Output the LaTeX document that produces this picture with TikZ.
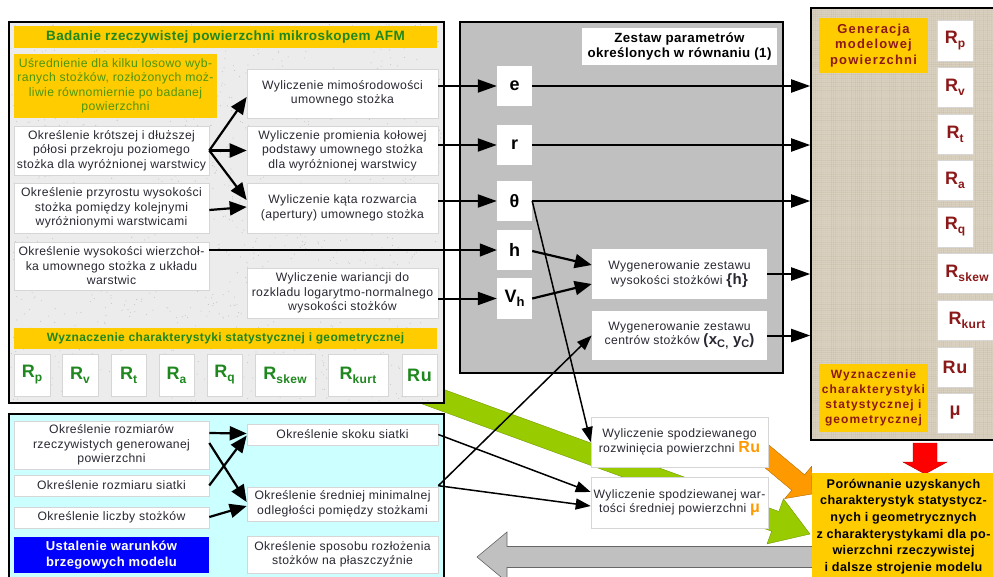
\documentclass[tikz,border=0pt]{standalone}
\usepackage{fontspec}
\setmainfont{Liberation Sans}[LetterSpace=3]
\newfontfamily\widefont[LetterSpace=9]{Liberation Sans}
\usetikzlibrary{arrows.meta,calc}

\definecolor{ylw}{RGB}{255,204,0}
\definecolor{grn}{RGB}{30,135,30}
\definecolor{usrgreen}{RGB}{75,150,15}
\definecolor{dred}{RGB}{140,25,25}
\definecolor{txt}{RGB}{40,40,50}
\definecolor{pgray}{RGB}{192,192,192}
\definecolor{cyanbg}{RGB}{204,255,255}
\definecolor{granite}{RGB}{236,236,236}
\definecolor{burlap}{RGB}{218,209,192}
\definecolor{burlapdark}{RGB}{150,135,110}
\definecolor{agreen}{RGB}{153,204,0}
\definecolor{aorange}{RGB}{255,153,0}
\definecolor{ared}{RGB}{255,0,0}
\definecolor{ablue}{RGB}{0,0,255}

\newcommand\bodysize{\fontsize{12.2}{14.5}\selectfont}
\newcommand\Rsub[2]{#1\raisebox{-0.22em}{\fontsize{12}{12}\selectfont #2}}

% box from corner (#2,#3) to corner (#4,#5), style #6, text #7
\newcommand\mkbox[7]{\node[#6, minimum width={(#4)-(#2)}, minimum height={(#5)-(#3)}]
  (#1) at ({((#2)+(#4))/2},{((#3)+(#5))/2}) {#7};}

\tikzset{
  panel/.style={draw=black, line width=1.6pt},
  wbox/.style={fill=white, draw=black!16, line width=0.6pt, align=center,
    text=txt, font=\bodysize, inner sep=0pt},
  ybox/.style={fill=ylw, draw=none, align=center, inner sep=0pt},
  rbox/.style={fill=white, draw=black!16, line width=0.6pt, inner sep=0pt,
    text=grn, font=\fontsize{18}{20}\selectfont\bfseries},
  rrbox/.style={rbox, text=dred},
  pbox/.style={fill=white, draw=none, inner sep=0pt,
    font=\fontsize{18}{20}\selectfont\bfseries},
  arr/.style={line width=2.2pt, -{Triangle[length=17pt,width=14pt]}},
  arrthin/.style={line width=1.3pt, -{Triangle[length=17pt,width=13pt]}},
  arrmid/.style={line width=1.5pt, -{Triangle[length=15pt,width=11pt]}},
  arrout/.style={line width=2pt, -{Triangle[length=19pt,width=13pt]}},
}

\begin{document}
\begin{tikzpicture}[x=1pt,y=-1pt]
\useasboundingbox (0,0) rectangle (993,576);
\fill[white] (0,0) rectangle (993,576);
\clip (0,0) rectangle (993,576);

% ---------- block arrows lying underneath the panels ----------
\coordinate (gS) at (420,392);
\coordinate (gT) at (810,534);
\coordinate (gB) at ($(gT)!37pt!(gS)$);
\filldraw[fill=agreen, draw=agreen!75!black, line width=0.4pt]
  ($(gS)!10.5pt!90:(gT)$) -- ($(gB)!10.5pt!-90:(gS)$) -- ($(gB)!24pt!-90:(gS)$)
  -- (gT) -- ($(gB)!24pt!90:(gS)$) -- ($(gB)!10.5pt!90:(gS)$)
  -- ($(gS)!10.5pt!-90:(gT)$) -- cycle;

\coordinate (oS) at (752,444);
\coordinate (oT) at (812,494);
\coordinate (oB) at ($(oT)!18pt!(oS)$);
\filldraw[fill=aorange, draw=aorange!70!black, line width=0.4pt]
  ($(oS)!10pt!90:(oT)$) -- ($(oB)!10pt!-90:(oS)$) -- ($(oB)!21pt!-90:(oS)$)
  -- (oT) -- ($(oB)!21pt!90:(oS)$) -- ($(oB)!10pt!90:(oS)$)
  -- ($(oS)!10pt!-90:(oT)$) -- cycle;

\filldraw[fill=pgray, draw=black!60, line width=0.6pt]
  (812,546.5) -- (507,546.5) -- (507,532) -- (477,557) -- (507,582)
  -- (507,567.5) -- (812,567.5);

% ---------- measurement panel (top left) ----------
\node[panel, fill=granite, minimum width=435, minimum height=381, inner sep=0pt]
  (LP) at (226.5,212.5) {};
\pgfmathsetseed{11}
\foreach \i in {1,...,1500}{
  \pgfmathsetmacro{\px}{11+431*rnd}
  \pgfmathsetmacro{\py}{24+377*rnd}
  \fill[black!22] (\px,\py) circle (0.55pt);
}
\mkbox{hdrA}{14}{26}{437}{48}{ybox, text=grn, font=\fontsize{13.5}{15}\selectfont\bfseries}
  {Badanie rzeczywistej powierzchni mikroskopem AFM}
\mkbox{uA}{14}{54}{217}{118}{ybox, text=usrgreen, font=\bodysize}
  {Uśrednienie dla kilku losowo wyb-\\ranych stożków, rozłożonych moż-\\liwie równomiernie po badanej\\powierzchni}
\mkbox{kA}{14}{126}{209}{175}{wbox}
  {Określenie krótszej i dłuższej\\półosi przekroju poziomego\\stożka dla wyróżnionej warstwicy}
\mkbox{pA}{14}{183}{209}{233}{wbox}
  {Określenie przyrostu wysokości\\stożka pomiędzy kolejnymi\\wyróżnionymi warstwicami}
\mkbox{wA}{14}{242}{209}{290}{wbox}
  {Określenie wysokości wierzchoł-\\ka umownego stożka z układu\\warstwic}
\mkbox{m1}{247}{69}{438}{118}{wbox}
  {Wyliczenie mimośrodowości\\umownego stożka}
\mkbox{m2}{247}{126}{438}{175}{wbox}
  {Wyliczenie promienia kołowej\\podstawy umownego stożka\\dla wyróżnionej warstwicy}
\mkbox{m3}{247}{183}{438}{233}{wbox}
  {Wyliczenie kąta rozwarcia\\(apertury) umownego stożka}
\mkbox{m4}{247}{268}{438}{318}{wbox}
  {Wyliczenie wariancji do\\rozkladu logarytmo-normalnego\\wysokości stożków}
\mkbox{hdrB}{14}{328}{437}{349}{ybox, text=grn, font=\fontsize{12}{14}\selectfont\bfseries}
  {Wyznaczenie charakterystyki statystycznej i geometrycznej}
\mkbox{LRp}{14}{354}{50}{396}{rbox}{\Rsub{R}{p}}
\mkbox{LRv}{62}{354}{98}{396}{rbox}{\Rsub{R}{v}}
\mkbox{LRt}{111}{354}{146}{396}{rbox}{\Rsub{R}{t}}
\mkbox{LRa}{159}{354}{194}{396}{rbox}{\Rsub{R}{a}}
\mkbox{LRq}{207}{354}{242}{396}{rbox}{\Rsub{R}{q}}
\mkbox{LRs}{255}{354}{315}{396}{rbox}{\Rsub{R}{skew}}
\mkbox{LRk}{328}{354}{388}{396}{rbox}{\Rsub{R}{kurt}}
\mkbox{LRu}{402}{354}{437}{396}{rbox}{Ru}

% ---------- parameter panel (top middle) ----------
\node[panel, fill=pgray, minimum width=323, minimum height=351, inner sep=0pt]
  (GP) at (621.5,197.5) {};
\mkbox{ttl}{582}{28}{777}{65}{ybox, fill=white, text=black, font=\fontsize{13.3}{15.5}\selectfont\bfseries}
  {Zestaw parametrów\\określonych w równaniu (1)}
\mkbox{e}{497}{66}{532}{106}{pbox}{e}
\mkbox{r}{497}{125}{532}{165}{pbox}{r}
\mkbox{th}{497}{181}{532}{221}{pbox}{θ}
\mkbox{h}{497}{230}{532}{270}{pbox}{h}
\mkbox{vh}{497}{278}{532}{319}{pbox}{V\raisebox{-0.25em}{\fontsize{13}{13}\selectfont h}}
\mkbox{gh}{592}{249}{767}{299}{wbox, draw=none}
  {Wygenerowanie zestawu\\wysokości stożkówi {\fontsize{15}{15}\selectfont\bfseries \{h\}}}
\mkbox{gc}{592}{311}{767}{360}{wbox, draw=none}
  {Wygenerowanie zestawu\\centrów stożków {\fontsize{15}{15}\selectfont\bfseries (x\raisebox{-0.2em}{\fontsize{11}{11}\selectfont C,} y\raisebox{-0.2em}{\fontsize{11}{11}\selectfont C})}}

% ---------- model panel (right) ----------
\node[panel, fill=burlap, minimum width=194, minimum height=432, inner sep=0pt]
  (RP) at (908,224) {};
\foreach \x in {813,815,...,1000}{
  \pgfmathsetmacro{\op}{0.02+0.10*rnd}
  \draw[burlapdark, opacity=\op, line width=0.7pt] (\x,9) -- (\x,439);
}
\foreach \y in {10,12,...,438}{
  \pgfmathsetmacro{\op}{0.02+0.10*rnd}
  \draw[burlapdark, opacity=\op, line width=0.7pt] (812,\y) -- (1000,\y);
}
\draw[black, line width=1.6pt] (1010,8) -- (811,8) -- (811,440) -- (1010,440);
\mkbox{gen}{819}{18}{928}{73}{ybox, text=dred, font=\widefont\fontsize{13}{15.5}\selectfont\bfseries}
  {Generacja\\modelowej\\powierzchni}
\mkbox{RRp}{937}{20}{973}{61}{rrbox}{\Rsub{R}{p}}
\mkbox{RRv}{937}{67}{973}{107}{rrbox}{\Rsub{R}{v}}
\mkbox{RRt}{937}{114}{973}{154}{rrbox}{\Rsub{R}{t}}
\mkbox{RRa}{937}{160}{973}{200}{rrbox}{\Rsub{R}{a}}
\mkbox{RRq}{937}{207}{973}{247}{rrbox}{\Rsub{R}{q}}
\mkbox{RRs}{937}{253}{997}{293}{rrbox}{\Rsub{R}{skew}}
\mkbox{RRk}{937}{300}{997}{340}{rrbox}{\Rsub{R}{kurt}}
\mkbox{RRu}{937}{347}{973}{387}{rrbox}{Ru}
\mkbox{RRm}{937}{393}{973}{433}{rrbox}{μ}
\mkbox{wyz}{819}{364}{928}{432}{ybox, text=dred, font=\widefont\fontsize{12}{14.8}\selectfont\bfseries}
  {Wyznaczenie\\charakterystyki\\statystycznej i\\geometrycznej}

% red arrow down to the comparison box
\filldraw[fill=ared, draw=ared!70!black, line width=0.4pt]
  (913,443) -- (937,443) -- (937,462) -- (947,462) -- (925,474) -- (903,462)
  -- (913,462) -- cycle;

\fill[ylw] (812,473) rectangle (1000,590);
\mkbox{cmp}{812}{473}{995}{580}{ybox, text=black, font=\fontsize{12.6}{16.7}\selectfont\bfseries}
  {Porównanie uzyskanych\\charakterystyk statystycz-\\nych i geometrycznych\\z charakterystykami dla po-\\wierzchni rzeczywistej\\i dalsze strojenie modelu}

% ---------- boundary conditions panel (bottom left) ----------
\node[panel, fill=cyanbg, minimum width=435, minimum height=176, inner sep=0pt]
  (CP) at (226.5,502) {};
\mkbox{b1}{14}{421}{209}{469}{wbox}
  {Określenie rozmiarów\\rzeczywistych generowanej\\powierzchni}
\mkbox{b2}{14}{475}{209}{496}{wbox}{Określenie rozmiaru siatki}
\mkbox{b3}{14}{507}{209}{528}{wbox}{Określenie liczby stożków}
\mkbox{bl}{14}{537}{209}{573}{ybox, fill=ablue, text=white, font=\fontsize{13}{16}\selectfont\bfseries}
  {Ustalenie warunków\\brzegowych modelu}
\mkbox{s1}{247}{424}{438}{445}{wbox}{Określenie skoku siatki}
\mkbox{s2}{247}{487}{438}{521}{wbox}
  {Określenie średniej minimalnej\\odległości pomiędzy stożkami}
\mkbox{s3}{247}{536}{438}{573}{wbox}
  {Określenie sposobu rozłożenia\\stożków na płaszczyźnie}

% ---------- expected values ----------
\mkbox{sp1}{591}{417}{768}{467}{wbox}
  {Wyliczenie spodziewanego\\rozwinięcia powierzchni {\color{aorange}\fontsize{16}{16}\selectfont\bfseries Ru}}
\mkbox{sp2}{591}{477}{768}{528}{wbox}
  {Wyliczenie spodziewanej war-\\tości średniej powierzchni {\color{aorange}\fontsize{16}{16}\selectfont\bfseries μ}}

% ---------- connectors ----------
\draw[arr] (kA.east) -- ($(m1.west)+(0,3.5)$);
\draw[arr] (kA.east) -- (m2.west);
\draw[arr] (kA.east) -- ($(m3.west)+(0,-8)$);
\draw[arr] ($(pA.east)+(0,2)$) -- ($(m3.west)+(0,-1)$);
\draw[arrthin] (h.west -| wA.east) -- (h.west);
\draw[arrout] (e.west -| m1.east) -- (e.west);
\draw[arrout] (r.west -| m2.east) -- (r.west);
\draw[arrout] (th.west -| m3.east) -- (th.west);
\draw[arrout] (vh.west -| m4.east) -- (vh.west);

\draw[arrout] (e.east) -- (e.east -| RP.west);
\draw[arrout] (r.east) -- (r.east -| RP.west);
\draw[arrout] (th.east) -- (th.east -| RP.west);
\draw[arrout] (gh.east) -- (gh.east -| RP.west);
\draw[arrout] (gc.east) -- (gc.east -| RP.west);
\draw[arrmid] (th.east) -- (sp1.west);
\draw[arr] ($(h.east)+(0,1)$) -- ($(gh.west)+(0,-9)$);
\draw[arr] (vh.east) -- ($(gh.west)+(0,10)$);

\draw[arr] ($(b1.east)+(0,-12)$) -- ($(s1.west)+(0,-1)$);
\draw[arr] ($(b1.east)+(0,-2)$) -- ($(s2.west)+(0,-2)$);
\draw[arr] (b2.east) -- ($(s1.west)+(0,1)$);
\draw[arr] ($(b3.east)+(0,-0.5)$) -- ($(s2.west)+(0,2)$);
\draw[arrmid] ($(s2.north east)+(0,-1)$) -- (gc.west);
\draw[arrmid] ($(s2.north east)+(0,-1)$) -- ($(sp2.west)+(0,3.5)$);
\draw[arrmid] (s1.east) -- ($(sp2.west)+(0,-10.5)$);
\end{tikzpicture}
\end{document}
